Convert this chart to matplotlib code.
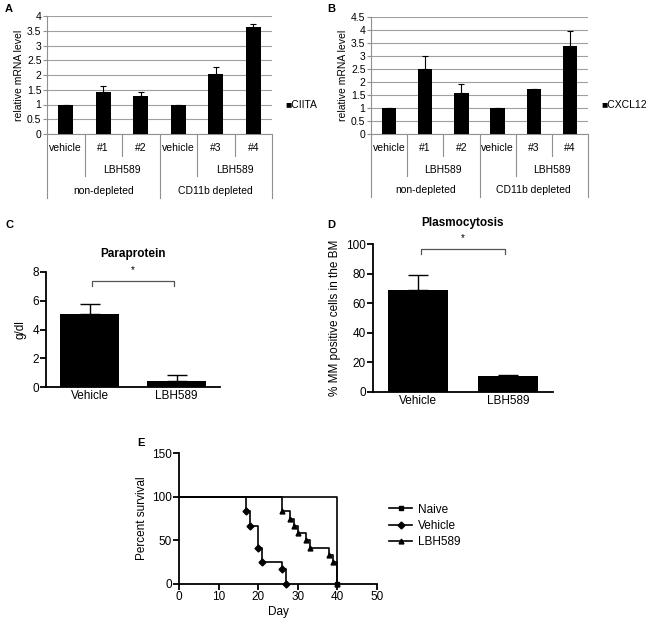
import matplotlib
matplotlib.use("Agg")
import matplotlib.pyplot as plt

plt.rcParams['font.family'] = ['Liberation Sans', 'DejaVu Sans']

# ---- data ----
groups = ['vehicle', '#1', '#2', 'vehicle', '#3', '#4']
ciita = [1.0, 1.42, 1.28, 1.0, 2.05, 3.62]
ciita_err = [0.0, 0.20, 0.14, 0.0, 0.22, 0.10]
cxcl12 = [1.0, 2.5, 1.57, 1.0, 1.72, 3.38]
cxcl12_err = [0.0, 0.50, 0.36, 0.0, 0.03, 0.57]

treat = ['Vehicle', 'LBH589']
paraprotein = [5.1, 0.45]
paraprotein_err = [0.7, 0.4]
plasmocytosis = [69.0, 10.5]
plasmocytosis_err = [10.0, 0.7]

naive_days = [0, 40]
naive_surv = [100, 0]
vehicle_days = [0, 17, 18, 20, 21, 26, 27]
vehicle_surv = [100, 83.3, 66.7, 41.7, 25.0, 16.7, 0]
lbh_days = [0, 26, 28, 29, 30, 32, 33, 38, 39, 40]
lbh_surv = [100, 83.3, 75.0, 66.7, 58.3, 50.0, 41.7, 33.3, 25.0, 0]

fig = plt.figure(figsize=(6.46, 6.22), dpi=100)
W, H = 646, 622


def px_axes(l, t, r, b):
    return fig.add_axes([l / W, 1 - b / H, (r - l) / W, (b - t) / H])


def excel_panel(ax, values, errs, ymax, legend_name):
    x = list(range(len(groups)))
    ax.bar(x, values, width=0.4, color='black', zorder=3)
    ax.errorbar(x, values, yerr=[[0] * len(errs), errs], fmt='none',
                ecolor='black', elinewidth=0.8, capsize=2.5, capthick=0.8,
                zorder=4)
    ax.set_xlim(-0.5, 5.5)
    ax.set_ylim(0, ymax)
    ax.set_yticks([i * 0.5 for i in range(int(ymax / 0.5) + 1)])
    ax.set_yticklabels([f'{v:g}' for v in ax.get_yticks()])
    ax.yaxis.grid(True, color='#a0a0a0', linewidth=0.8, zorder=0)
    ax.set_axisbelow(True)
    for s in ['top', 'right']:
        ax.spines[s].set_visible(False)
    ax.spines['left'].set_color('#909090')
    ax.spines['bottom'].set_color('#909090')
    ax.tick_params(axis='y', labelsize=7.5, length=3, color='#909090', pad=1)
    ax.set_xticks([])
    ax.set_ylabel('relative mRNA level', fontsize=7.5, labelpad=2)

    tr = ax.get_xaxis_transform()
    depth = {0: -0.54, 1: -0.36, 2: -0.19}
    bounds = [(-0.5, 0), (0.5, 1), (1.5, 2), (2.5, 0), (3.5, 1), (4.5, 2),
              (5.5, 0)]
    for xb, lev in bounds:
        ax.plot([xb, xb], [0, depth[lev]], transform=tr, color='#909090',
                linewidth=0.8, clip_on=False)
    for i, g in enumerate(groups):
        ax.text(i, -0.12, g, transform=tr, ha='center', va='center',
                fontsize=7.5)
    for xc in [1.5, 4.5]:
        ax.text(xc, -0.305, 'LBH589', transform=tr, ha='center',
                va='center', fontsize=7.5)
    ax.text(1.0, -0.48, 'non-depleted', transform=tr, ha='center',
            va='center', fontsize=7.5)
    ax.text(4.0, -0.48, 'CD11b depleted', transform=tr, ha='center',
            va='center', fontsize=7.5)
    ax.text(1.06, 0.245, '\u25a0' + legend_name, transform=ax.transAxes,
            ha='left', va='center', fontsize=7.5)


def prism_panel(ax, values, errs, ymax, ystep, title, ylabel, br_y, br_h):
    x = [0, 1]
    ax.bar(x, values, width=0.67, color='black', zorder=3)
    ax.errorbar(x, values, yerr=[[0, 0], errs], fmt='none', ecolor='black',
                elinewidth=1.0, capsize=7, capthick=1.0, zorder=2)
    ax.set_xlim(-0.5, 1.5)
    ax.set_ylim(0, ymax)
    ax.set_yticks(list(range(0, ymax + 1, ystep)))
    ax.set_xticks(x)
    ax.set_xticklabels(treat)
    for s in ['top', 'right']:
        ax.spines[s].set_visible(False)
    for s in ['left', 'bottom']:
        ax.spines[s].set_linewidth(1.3)
    ax.tick_params(labelsize=8.5, width=1.3, length=4, pad=1)
    ax.tick_params(axis='x', length=0, pad=2)
    ax.set_ylabel(ylabel, fontsize=8.5, labelpad=4)
    ax.text(0.5, 1.1, title, transform=ax.transAxes, ha='center',
            va='bottom', fontsize=8.5, fontweight='bold')
    ax.plot([0.03, 0.03, 0.97, 0.97], [br_y - br_h, br_y, br_y, br_y - br_h],
            color='#555555', linewidth=0.9, clip_on=False)
    ax.text(0.5, br_y + br_h * 1.2, '*', ha='center', va='bottom',
            fontsize=7)


# A
axA = px_axes(47, 16, 272, 134)
excel_panel(axA, ciita, ciita_err, 4, 'CIITA')
fig.text(5 / W, 1 - 9 / H, 'A', fontsize=8, fontweight='bold', va='center')

# B
axB = px_axes(371, 17, 588, 134)
excel_panel(axB, cxcl12, cxcl12_err, 4.5, 'CXCL12')
fig.text(327 / W, 1 - 9 / H, 'B', fontsize=8, fontweight='bold',
         va='center')

# C
axC = px_axes(46, 272, 220, 387)
prism_panel(axC, paraprotein, paraprotein_err, 8, 2, 'Paraprotein', 'g/dl',
            7.4, 0.35)
fig.text(5 / W, 1 - 225 / H, 'C', fontsize=8, fontweight='bold',
         va='center')

# D
axD = px_axes(373, 244, 553, 392)
prism_panel(axD, plasmocytosis, plasmocytosis_err, 100, 20, 'Plasmocytosis',
            '% MM positive cells in the BM', 96.5, 3.5)
fig.text(327 / W, 1 - 225 / H, 'D', fontsize=8, fontweight='bold',
         va='center')

# E
axE = px_axes(179, 453, 377, 584)
for days, surv, mk, lab in [(naive_days, naive_surv, 's', 'Naive'),
                            (vehicle_days, vehicle_surv, 'D', 'Vehicle'),
                            (lbh_days, lbh_surv, '^', 'LBH589')]:
    axE.step(days, surv, where='post', color='black', linewidth=1.2,
             clip_on=False)
    axE.plot(days[1:], surv[1:], linestyle='none', marker=mk, color='black',
             markersize=3.5, clip_on=False)
    axE.plot([], [], color='black', linewidth=1.2, marker=mk, markersize=3.5,
             label=lab)
axE.set_xlim(0, 50)
axE.set_ylim(0, 150)
axE.set_xticks(range(0, 51, 10))
axE.set_yticks([0, 50, 100, 150])
for s in ['top', 'right']:
    axE.spines[s].set_visible(False)
for s in ['left', 'bottom']:
    axE.spines[s].set_linewidth(1.3)
axE.tick_params(labelsize=8.5, width=1.3, length=4, pad=1)
axE.set_xlabel('Day', fontsize=8.5, labelpad=2)
axE.set_ylabel('Percent survival', fontsize=8.5, labelpad=3)
axE.legend(loc='center left', bbox_to_anchor=(1.06, 0.445), frameon=False,
           fontsize=8.5, handlelength=2.0, borderpad=0, borderaxespad=0,
           labelspacing=0.35, handletextpad=0.5)
fig.text(137 / W, 1 - 443 / H, 'E', fontsize=8, fontweight='bold',
         va='center')

fig.savefig('out.png', dpi=100)
